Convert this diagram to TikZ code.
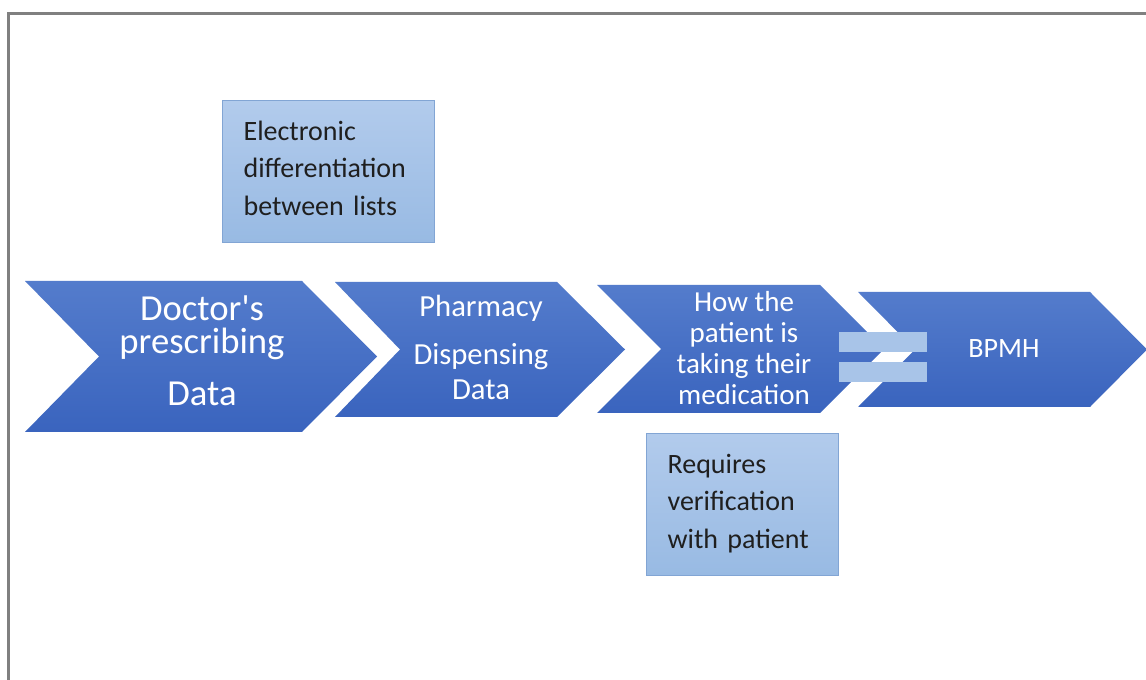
\documentclass[tikz,border=0pt]{standalone}
\usepackage{fontspec}
\setmainfont{Carlito}

\definecolor{chevTop}{RGB}{84,124,204}
\definecolor{chevBottom}{RGB}{58,100,190}
\definecolor{noteTop}{RGB}{178,203,236}
\definecolor{noteBottom}{RGB}{152,186,227}
\definecolor{noteLine}{RGB}{130,165,212}
\definecolor{eqFill}{RGB}{168,196,232}
\definecolor{frameGray}{RGB}{128,128,128}

\tikzset{
    chevron/.style={top color=chevTop, bottom color=chevBottom},
    stepLabel/.style={text=white, align=center, inner sep=0pt},
    noteBox/.style={draw=noteLine, line width=0.9pt, top color=noteTop,
        bottom color=noteBottom, text=black!88, align=left, anchor=north west,
        inner xsep=21*0.75pt, inner ysep=0pt, minimum height=142*0.75pt,
        text depth=61pt, font=\fontsize{21}{28}\selectfont},
    eqBar/.style={fill=eqFill, minimum width=88*0.75pt, minimum height=20*0.75pt,
        inner sep=0pt},
}

\begin{document}
\begin{tikzpicture}[x=0.75pt, y=-0.75pt]
        \useasboundingbox (0,0) rectangle (1146,680);
        \fill[white] (0,0) rectangle (1146,680);

        \draw[frameGray, line width=2.25pt] (8.5,680) -- (8.5,13.5) -- (1146,13.5);

        \shade[chevron] (25,281) -- (302,281) -- (377,356.5) -- (302,432) --
            (25,432) -- (99,356.5) -- cycle;
        \shade[chevron] (335,282) -- (557,282) -- (625,349.5) -- (557,417) --
            (335,417) -- (400,349.5) -- cycle;
        \shade[chevron] (597,285) -- (820,285) -- (884,349) -- (820,413) --
            (597,413) -- (661,349) -- cycle;
        \shade[chevron] (858,292) -- (1090,292) -- (1147,349.5) -- (1090,407) --
            (858,407) -- (915,349.5) -- cycle;

        \node[stepLabel, font=\fontsize{27.5}{25}\selectfont] (doctor) at (202,351)
            {Doctor\textquotesingle s\\prescribing\\[14pt]Data};
        \node[stepLabel, font=\fontsize{23}{26.25}\selectfont] (pharmacy) at (481,347)
            {Pharmacy\\[9.75pt]Dispensing\\Data};
        \node[stepLabel, font=\fontsize{21.75}{23.25}\selectfont] (taking) at (744,348)
            {How the\\patient is\\taking their\\medication};
        \node[stepLabel, font=\fontsize{21}{25}\selectfont] (bpmh) at (1004,349) {BPMH};

        \node[eqBar] (eqTop) at (883,342) {};
        \node[eqBar] (eqBottom) at (883,372) {};

        \node[noteBox, text width=170*0.75pt] (electronic) at (222,100)
            {Electronic\\differentiation\\between lists};
        \node[noteBox, text width=150*0.75pt] (verify) at (646,433)
            {Requires\\verification\\with patient};
    \end{tikzpicture}
\end{document}
